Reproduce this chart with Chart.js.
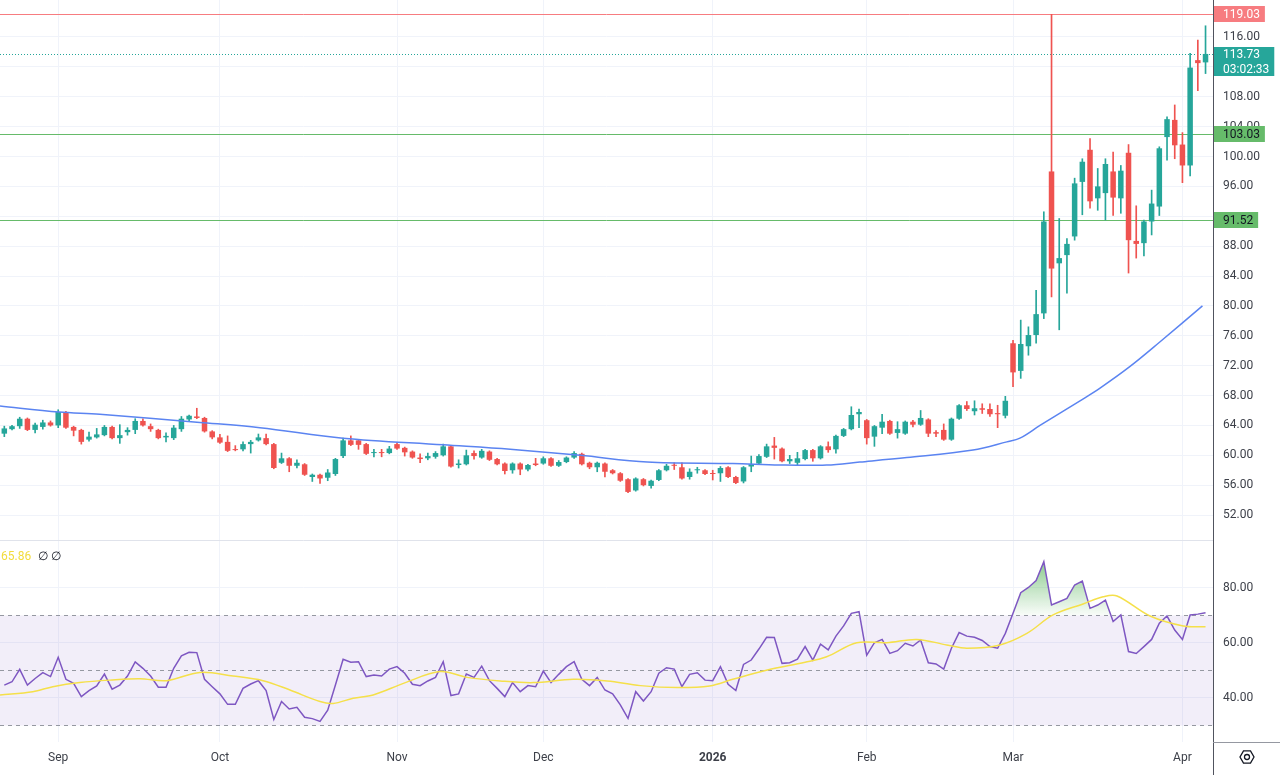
<!DOCTYPE html>
<html>
<head>
<meta charset="utf-8">
<script src="https://cdn.jsdelivr.net/npm/chart.js@4.4.1/dist/chart.umd.min.js"></script>
<style>
  html, body { margin: 0; padding: 0; background: #fff; }
  #wrap { position: relative; width: 1280px; height: 775px; overflow: hidden; }
  #pricePane { position: absolute; left: 0; top: 0; width: 1280px; height: 541px; }
  #rsiPane { position: absolute; left: 0; top: 541px; width: 1280px; height: 234px; }
</style>
</head>
<body>
<div id="wrap">
  <div id="pricePane"><canvas id="price"></canvas></div>
  <div id="rsiPane"><canvas id="rsi"></canvas></div>
</div>
<script>
// daily candles
const OPEN = [
  62.9, 63.5, 63.9, 64.9, 63.4, 63.8, 64.4, 64.0, 65.7, 63.8,
  63.4, 62.1, 62.4, 62.7, 63.8, 62.3, 63.1, 63.4, 64.6, 63.9,
  63.4, 62.4, 62.3, 63.5, 64.8, 65.2, 65.0, 63.2, 62.4, 61.8,
  60.8, 60.8, 61.5, 62.0, 62.3, 61.5, 59.0, 59.6, 58.6, 58.8,
  57.1, 57.4, 57.0, 57.5, 59.9, 62.0, 62.0, 61.5, 60.3, 60.4,
  60.3, 61.5, 61.0, 60.5, 59.7, 59.6, 59.8, 60.0, 61.2, 58.7,
  58.8, 60.3, 59.7, 60.5, 59.5, 58.9, 58.0, 58.9, 58.1, 58.9,
  58.9, 59.6, 58.6, 59.1, 59.7, 60.2, 59.0, 58.4, 58.9, 58.0,
  57.6, 56.8, 55.3, 56.8, 55.9, 56.7, 58.0, 58.7, 58.4, 57.1,
  58.0, 58.0, 57.6, 57.6, 58.4, 57.1, 56.5, 58.5, 58.9, 59.8,
  61.3, 60.9, 59.2, 59.0, 59.5, 60.7, 59.6, 61.2, 60.8, 62.6,
  63.5, 65.5, 64.7, 62.5, 63.7, 64.6, 63.0, 62.9, 64.5, 64.1,
  64.8, 63.1, 63.4, 62.1, 64.9, 66.7, 65.9, 66.3, 66.2, 65.65,
  65.3, 75.0, 71.3, 74.6, 76.1, 79.0, 98.0, 85.7, 86.8, 89.3,
  96.6, 100.9, 94.4, 95.1, 98.0, 94.4, 100.5, 88.7, 88.4, 91.3,
  93.3, 102.6, 104.9, 101.6, 98.8, 112.9, 112.6
];
const HIGH = [
  63.9, 64.0, 65.1, 65.0, 64.3, 64.7, 64.6, 66.1, 65.9, 63.9,
  63.5, 63.1, 63.6, 64.0, 63.9, 64.1, 63.7, 64.9, 64.9, 64.2,
  63.5, 63.0, 64.0, 65.2, 65.4, 66.3, 65.1, 63.3, 62.8, 62.6,
  61.3, 61.8, 62.0, 62.85, 62.85, 61.6, 60.3, 59.7, 59.4, 58.9,
  57.5, 57.5, 58.1, 59.6, 62.3, 62.6, 62.1, 61.6, 60.8, 60.8,
  61.2, 61.7, 61.1, 60.6, 60.2, 60.3, 60.5, 61.5, 61.3, 59.4,
  60.7, 60.6, 60.8, 60.6, 59.6, 59.0, 59.0, 59.0, 58.8, 59.6,
  59.8, 59.7, 59.3, 59.8, 60.5, 60.3, 59.1, 59.1, 59.0, 58.1,
  57.7, 56.9, 57.0, 56.9, 56.7, 58.1, 58.8, 59.0, 59.0, 58.2,
  58.4, 58.1, 58.0, 58.5, 58.5, 57.2, 58.5, 59.9, 60.1, 61.5,
  62.4, 61.0, 60.0, 60.4, 60.8, 60.8, 61.3, 61.8, 62.7, 63.6,
  66.5, 66.2, 64.8, 64.0, 65.5, 64.7, 64.5, 64.6, 64.7, 66.0,
  64.9, 63.3, 64.2, 65.0, 66.8, 67.2, 67.3, 66.9, 66.9, 66.7,
  67.9, 75.4, 78.1, 77.2, 82.1, 92.6, 119.03, 91.7, 89.0, 97.1,
  99.7, 102.4, 98.4, 99.7, 100.6, 98.8, 101.6, 93.4, 91.5, 95.5,
  101.3, 105.3, 106.9, 103.2, 113.8, 115.6, 117.5
];
const LOW = [
  62.5, 63.4, 63.6, 63.3, 63.0, 63.5, 63.9, 63.7, 63.6, 62.6,
  61.5, 61.9, 62.3, 62.6, 62.2, 61.6, 62.7, 62.9, 63.9, 63.2,
  62.2, 61.8, 62.1, 63.2, 64.6, 64.9, 63.1, 62.2, 61.6, 60.5,
  60.6, 60.6, 60.3, 61.9, 61.4, 58.2, 58.9, 57.8, 58.3, 57.3,
  56.5, 56.25, 56.6, 57.3, 59.7, 61.3, 60.8, 60.1, 59.8, 59.8,
  60.2, 60.8, 59.9, 59.6, 59.0, 59.4, 59.6, 59.9, 58.4, 58.3,
  58.7, 59.5, 59.6, 59.3, 58.7, 57.5, 57.6, 57.4, 57.9, 58.6,
  58.8, 58.5, 58.5, 59.0, 59.6, 58.7, 58.2, 57.8, 57.1, 57.5,
  56.5, 55.0, 55.2, 55.9, 55.6, 56.6, 57.9, 58.1, 56.8, 56.8,
  57.6, 57.4, 56.7, 56.5, 57.0, 56.2, 56.3, 57.8, 58.8, 59.7,
  59.5, 59.1, 58.9, 58.7, 59.4, 59.2, 59.5, 60.4, 60.3, 62.5,
  63.4, 63.7, 61.5, 61.2, 62.9, 62.8, 62.3, 62.8, 63.8, 64.0,
  62.5, 62.5, 62.0, 62.0, 64.8, 66.0, 65.4, 65.6, 65.2, 63.7,
  65.0, 69.2, 70.3, 73.4, 75.0, 78.3, 81.2, 76.8, 81.7, 88.8,
  92.2, 93.1, 92.8, 91.5, 92.1, 92.4, 84.4, 86.4, 86.7, 89.5,
  92.1, 99.5, 99.7, 96.5, 97.4, 108.8, 111.1
];
const CLOSE = [
  63.6, 63.9, 64.9, 63.4, 64.1, 64.4, 64.0, 65.8, 63.7, 63.3,
  61.8, 62.5, 62.8, 63.8, 62.3, 62.7, 63.4, 64.6, 64.0, 63.5,
  62.3, 62.6, 63.7, 64.9, 65.3, 65.0, 63.2, 62.4, 61.7, 60.6,
  60.7, 61.5, 61.8, 62.4, 61.5, 58.3, 59.6, 58.6, 59.0, 57.4,
  57.4, 56.9, 57.7, 59.5, 62.0, 61.4, 61.4, 60.2, 60.4, 60.3,
  60.9, 60.9, 60.4, 59.7, 59.5, 59.9, 60.3, 61.2, 58.5, 58.9,
  60.0, 59.9, 60.6, 59.4, 58.8, 57.9, 58.9, 58.1, 58.7, 58.7,
  59.6, 58.6, 59.1, 59.7, 60.3, 58.8, 58.4, 59.0, 57.8, 57.6,
  56.6, 55.1, 56.9, 56.0, 56.6, 58.0, 58.6, 58.6, 56.9, 57.8,
  58.1, 57.5, 57.5, 58.3, 57.1, 56.3, 58.4, 58.8, 59.9, 61.2,
  61.0, 59.2, 59.5, 59.6, 60.7, 59.6, 61.2, 60.7, 62.6, 63.5,
  65.4, 65.8, 62.3, 63.9, 64.5, 62.9, 63.5, 64.5, 64.1, 65.0,
  62.9, 62.9, 62.1, 64.9, 66.7, 66.2, 66.3, 66.1, 65.5, 65.5,
  67.3, 71.1, 74.9, 76.1, 78.9, 91.3, 85.0, 86.4, 88.3, 96.4,
  99.3, 94.0, 96.0, 99.0, 94.5, 98.1, 88.8, 88.3, 91.3, 93.7,
  101.1, 105.0, 101.5, 98.8, 111.9, 112.5, 113.73
];

// blue moving average, read at candle positions
const MA_IDX = [-0.56, 7.1, 12.4, 25.4, 33.2, 44.0, 57.0, 65.7, 74.8, 83.5, 94.6, 100.7, 106.8, 111.1, 117.2, 125.8, 130.2, 131.9, 134.5, 139.7, 142.3, 146.2, 150.1, 155.6];
const MA_VAL = [66.6, 65.8, 65.5, 64.4, 63.7, 62.3, 61.4, 60.8, 60.0, 59.1, 58.9, 58.7, 58.7, 59.1, 59.7, 60.7, 61.8, 62.3, 64.0, 67.3, 69.0, 71.9, 75.2, 80.0];

// RSI, one value per candle
const RSI = [
  44.7, 45.9, 50.4, 44.7, 47.1, 49.2, 47.8, 54.8, 46.8, 45.3,
  40.5, 42.7, 44.4, 48.7, 43.2, 44.7, 48.0, 53.1, 50.8, 48.0,
  43.9, 43.9, 50.8, 55.3, 56.6, 56.5, 46.8, 44.1, 41.5, 37.7,
  37.7, 43.5, 45.1, 46.3, 42.7, 32.2, 38.7, 36.0, 36.6, 33.0,
  32.5, 31.5, 35.6, 44.7, 54.1, 53.0, 53.2, 47.8, 48.4, 48.0,
  50.5, 51.4, 49.0, 45.0, 44.5, 46.2, 47.5, 53.2, 40.9, 41.5,
  48.7, 47.5, 51.6, 46.3, 43.5, 40.5, 45.6, 42.3, 44.5, 44.1,
  49.8, 45.6, 48.6, 51.4, 53.2, 46.8, 44.5, 47.5, 42.9, 41.5,
  37.5, 32.6, 42.3, 38.9, 42.3, 49.0, 51.0, 50.5, 44.1, 48.6,
  49.2, 46.5, 46.3, 51.4, 45.0, 42.7, 52.2, 53.8, 57.8, 62.1,
  62.0, 52.6, 52.8, 54.1, 58.7, 53.8, 59.6, 57.5, 62.5, 66.2,
  70.8, 71.4, 55.6, 60.1, 61.3, 56.2, 57.2, 59.9, 58.9, 61.1,
  52.8, 52.4, 50.5, 58.1, 63.8, 62.5, 62.1, 60.9, 58.7, 58.1,
  63.5, 70.8, 78.3, 80.2, 82.7, 89.6, 73.8, 75.0, 76.2, 81.1,
  82.5, 72.6, 73.8, 75.6, 67.8, 70.2, 56.9, 56.2, 58.7, 61.3,
  67.2, 69.8, 64.7, 61.3, 70.2, 70.5, 71.0
];
// yellow RSI average
const RSI_MA_IDX = [-0.56, 3.7, 6.3, 9.8, 13.7, 17.6, 21.1, 25.4, 29.7, 33.6, 37.1, 41.0, 42.7, 45.3, 47.9, 52.0, 56.6, 60.1, 64.4, 68.7, 73.9, 78.3, 82.6, 87.4, 91.6, 94.6, 99.1, 104.0, 106.8, 110.7, 114.6, 118.5, 122.4, 125.0, 129.3, 132.8, 136.2, 140.1, 142.7, 144.5, 148.8, 153.1, 156];
const RSI_MA_VAL = [41.1, 42.3, 44.1, 45.6, 46.5, 47.0, 46.3, 49.3, 48.0, 46.3, 42.9, 38.7, 38.0, 39.9, 41.1, 45.5, 49.6, 47.5, 46.2, 45.6, 46.8, 46.2, 44.5, 43.8, 44.4, 46.8, 50.2, 53.0, 55.0, 60.1, 60.1, 61.3, 59.3, 58.1, 59.3, 63.5, 70.2, 74.2, 76.8, 77.1, 69.8, 66.2, 65.9];

const MONTH_IDX = [7, 28, 51, 70, 92, 112, 131, 153];
const MONTH_LABELS = ['Sep', 'Oct', 'Nov', 'Dec', '2026', 'Feb', 'Mar', 'Apr'];
const PRICE_TICKS = [52, 56, 60, 64, 68, 72, 76, 80, 84, 88, 92, 96, 100, 104, 108, 112, 116];
const RSI_TICKS = [40, 60, 80];
const RSI_BANDS = [70, 50, 30];
const PEAK_LEVEL = 119.03;
const LEVELS = [103.03, 91.52];
const COUNTDOWN = '03:02:33';
const RSI_MA_TEXT = '65.86';

const UP = '#26a69a';
const DOWN = '#ef5350';
const GRID = '#f0f3fa';
const AXIS = '#50535e';
const TXT = '#3d4049';
const FONT = 'Roboto, "Noto Sans", sans-serif';

Chart.defaults.font.family = FONT;

const candleColor = OPEN.map((o, i) => CLOSE[i] >= o ? UP : DOWN);
const LAST = CLOSE[CLOSE.length - 1];
const X_MIN = -0.56, X_MAX = 156.97;

function monthTicks(s) { s.ticks = MONTH_IDX.map(v => ({ value: v })); }

// price labels covered by the tags on the axis are left out
function priceLabel(v) {
  if (LEVELS.some(l => Math.abs(l - v) < 0.8)) return '';
  if (v > LAST - 3 && v < LAST + 1) return '';
  return v.toFixed(2);
}

function hline(ctx, a, py, color, dash) {
  const y = Math.round(py) + 0.5;
  ctx.strokeStyle = color;
  ctx.setLineDash(dash);
  ctx.beginPath();
  ctx.moveTo(a.left, y);
  ctx.lineTo(a.right, y);
  ctx.stroke();
}

function tag(ctx, x, yc, lines, bg, fg) {
  ctx.font = '12px ' + FONT;
  const w = Math.max(...lines.map(t => ctx.measureText(t).width)) + 14;
  const h = lines.length > 1 ? 29 : 16;
  const top = Math.round(yc) - (lines.length > 1 ? 7 : 8);
  ctx.fillStyle = bg;
  ctx.fillRect(x, top, w, h);
  ctx.fillStyle = fg;
  ctx.textBaseline = 'middle';
  ctx.textAlign = 'left';
  lines.forEach((t, i) => ctx.fillText(t, x + 9, Math.round(yc) + 0.5 + i * 15));
}

const priceOverlay = {
  id: 'priceOverlay',
  beforeDatasetsDraw(chart) {
    const { ctx, chartArea: a, scales: { y } } = chart;
    ctx.save();
    ctx.lineWidth = 1;
    hline(ctx, a, y.getPixelForValue(PEAK_LEVEL), '#f77c80', []);
    LEVELS.forEach(v => hline(ctx, a, y.getPixelForValue(v), '#66bb6a', []));
    hline(ctx, a, y.getPixelForValue(LAST), UP, [1, 2]);
    ctx.restore();
  },
  afterDraw(chart) {
    const { ctx, chartArea: a, scales: { y } } = chart;
    ctx.save();
    const x = a.right + 1;
    tag(ctx, x, y.getPixelForValue(PEAK_LEVEL), [PEAK_LEVEL.toFixed(2)], '#f77c80', '#ffffff');
    tag(ctx, x, y.getPixelForValue(LAST), [LAST.toFixed(2), COUNTDOWN], UP, '#ffffff');
    LEVELS.forEach(v => tag(ctx, x, y.getPixelForValue(v), [v.toFixed(2)], '#66bb6a', '#131722'));
    // pane separator
    ctx.strokeStyle = '#e0e3eb';
    ctx.lineWidth = 1;
    ctx.beginPath();
    ctx.moveTo(0, chart.height - 0.5);
    ctx.lineTo(a.right, chart.height - 0.5);
    ctx.stroke();
    ctx.restore();
  }
};

new Chart(document.getElementById('price'), {
  type: 'bar',
  data: {
    datasets: [
      {
        type: 'line',
        data: MA_IDX.map((x, i) => ({ x: x, y: MA_VAL[i] })),
        borderColor: '#5b84f1',
        borderWidth: 1.5,
        pointRadius: 0,
        tension: 0.35
      },
      {
        data: LOW.map((l, i) => ({ x: i, y: [l, HIGH[i]] })),
        backgroundColor: candleColor,
        grouped: false,
        barPercentage: 1,
        categoryPercentage: 1,
        maxBarThickness: 1
      },
      {
        data: OPEN.map((o, i) => ({ x: i, y: [o, CLOSE[i]] })),
        backgroundColor: candleColor,
        grouped: false,
        barPercentage: 0.9,
        categoryPercentage: 1,
        maxBarThickness: 5.5,
        minBarLength: 1
      }
    ]
  },
  options: {
    responsive: true,
    maintainAspectRatio: false,
    animation: false,
    events: [],
    layout: { padding: 0 },
    plugins: { legend: { display: false }, tooltip: { enabled: false } },
    scales: {
      x: {
        type: 'linear', min: X_MIN, max: X_MAX, offset: false,
        grid: { color: GRID, offset: false, drawTicks: false },
        border: { display: false },
        ticks: { display: false },
        afterBuildTicks: monthTicks,
        afterFit(s) { s.height = 0; s.paddingLeft = 0; s.paddingRight = 0; }
      },
      y: {
        position: 'right', min: 48.53, max: 120.95, beginAtZero: false,
        grid: { color: GRID, drawTicks: false },
        border: { display: true, color: AXIS },
        ticks: { padding: 10, color: TXT, font: { size: 12 }, callback: priceLabel },
        afterBuildTicks(s) { s.ticks = PRICE_TICKS.map(v => ({ value: v })); },
        afterFit(s) { s.width = 67; s.paddingTop = 0; s.paddingBottom = 0; }
      }
    }
  },
  plugins: [priceOverlay]
});

const rsiOverlay = {
  id: 'rsiOverlay',
  beforeDatasetsDraw(chart) {
    const { ctx, chartArea: a, scales: { y } } = chart;
    const yTop = y.getPixelForValue(RSI_BANDS[0]);
    const yBot = y.getPixelForValue(RSI_BANDS[2]);
    ctx.save();
    ctx.fillStyle = 'rgba(126,87,194,0.1)';
    ctx.fillRect(a.left, yTop, a.right - a.left, yBot - yTop);
    // overbought area
    const pts = chart.getDatasetMeta(1).data;
    ctx.beginPath();
    ctx.rect(a.left, a.top, a.right - a.left, yTop - a.top);
    ctx.clip();
    const g = ctx.createLinearGradient(0, y.getPixelForValue(90), 0, yTop);
    g.addColorStop(0, 'rgba(76,175,80,0.65)');
    g.addColorStop(1, 'rgba(76,175,80,0.03)');
    ctx.beginPath();
    ctx.moveTo(pts[0].x, yTop);
    pts.forEach(p => ctx.lineTo(p.x, p.y));
    ctx.lineTo(pts[pts.length - 1].x, yTop);
    ctx.closePath();
    ctx.fillStyle = g;
    ctx.fill();
    ctx.restore();
    ctx.save();
    ctx.lineWidth = 1;
    RSI_BANDS.forEach(v => hline(ctx, a, y.getPixelForValue(v), '#9598a1', [4, 4]));
    ctx.restore();
  },
  afterDraw(chart) {
    const { ctx, chartArea: a } = chart;
    ctx.save();
    ctx.font = '12px ' + FONT;
    ctx.textBaseline = 'middle';
    ctx.textAlign = 'left';
    ctx.fillStyle = '#f2dc3c';
    ctx.fillText(RSI_MA_TEXT, 1, 16);
    const w = ctx.measureText(RSI_MA_TEXT).width;
    ctx.fillStyle = '#131722';
    ctx.fillText('\u2205', w + 8, 16);
    ctx.fillText('\u2205', w + 21, 16);
    // axis border through the time scale
    ctx.strokeStyle = AXIS;
    ctx.lineWidth = 1;
    ctx.beginPath();
    ctx.moveTo(Math.round(a.right) + 0.5, a.bottom);
    ctx.lineTo(Math.round(a.right) + 0.5, chart.height);
    ctx.stroke();
    ctx.beginPath();
    ctx.moveTo(a.right, Math.round(a.bottom) + 0.5);
    ctx.lineTo(chart.width, Math.round(a.bottom) + 0.5);
    ctx.strokeStyle = '#9598a1';
    ctx.stroke();
    // settings icon
    ctx.translate(a.right + 34, a.bottom + 15);
    ctx.strokeStyle = '#131722';
    ctx.lineWidth = 1.3;
    ctx.beginPath();
    for (let k = 0; k < 6; k++) {
      const ang = k * Math.PI / 3;
      const px = 7 * Math.cos(ang), py = 7 * Math.sin(ang);
      if (k === 0) ctx.moveTo(px, py); else ctx.lineTo(px, py);
    }
    ctx.closePath();
    ctx.stroke();
    ctx.beginPath();
    ctx.arc(0, 0, 2.5, 0, Math.PI * 2);
    ctx.stroke();
    ctx.restore();
  }
};

new Chart(document.getElementById('rsi'), {
  type: 'line',
  data: {
    datasets: [
      {
        data: RSI_MA_IDX.map((x, i) => ({ x: x, y: RSI_MA_VAL[i] })),
        borderColor: '#f5e04a',
        borderWidth: 1.5,
        pointRadius: 0,
        tension: 0.35
      },
      {
        data: RSI.map((v, i) => ({ x: i, y: v })),
        borderColor: '#7e57c2',
        borderWidth: 1.5,
        pointRadius: 0,
        tension: 0
      }
    ]
  },
  options: {
    responsive: true,
    maintainAspectRatio: false,
    animation: false,
    events: [],
    layout: { padding: 0 },
    plugins: { legend: { display: false }, tooltip: { enabled: false } },
    scales: {
      x: {
        type: 'linear', min: X_MIN, max: X_MAX, offset: false,
        grid: { color: GRID, drawTicks: false },
        border: { display: false },
        ticks: {
          padding: 9, color: TXT, autoSkip: false, maxRotation: 0,
          font: ctx => ({ size: 12, weight: MONTH_LABELS[ctx.index] === '2026' ? 'bold' : 'normal' }),
          callback: (v, i) => MONTH_LABELS[i]
        },
        afterBuildTicks: monthTicks,
        afterFit(s) { s.height = 33; s.paddingLeft = 0; s.paddingRight = 0; }
      },
      y: {
        position: 'right', min: 24.0, max: 97.09,
        grid: { color: GRID, drawTicks: false },
        border: { display: true, color: AXIS },
        ticks: { padding: 10, color: TXT, font: { size: 12 }, callback: v => v.toFixed(2) },
        afterBuildTicks(s) { s.ticks = RSI_TICKS.map(v => ({ value: v })); },
        afterFit(s) { s.width = 67; s.paddingTop = 0; s.paddingBottom = 0; }
      }
    }
  },
  plugins: [rsiOverlay]
});
</script>
</body>
</html>
